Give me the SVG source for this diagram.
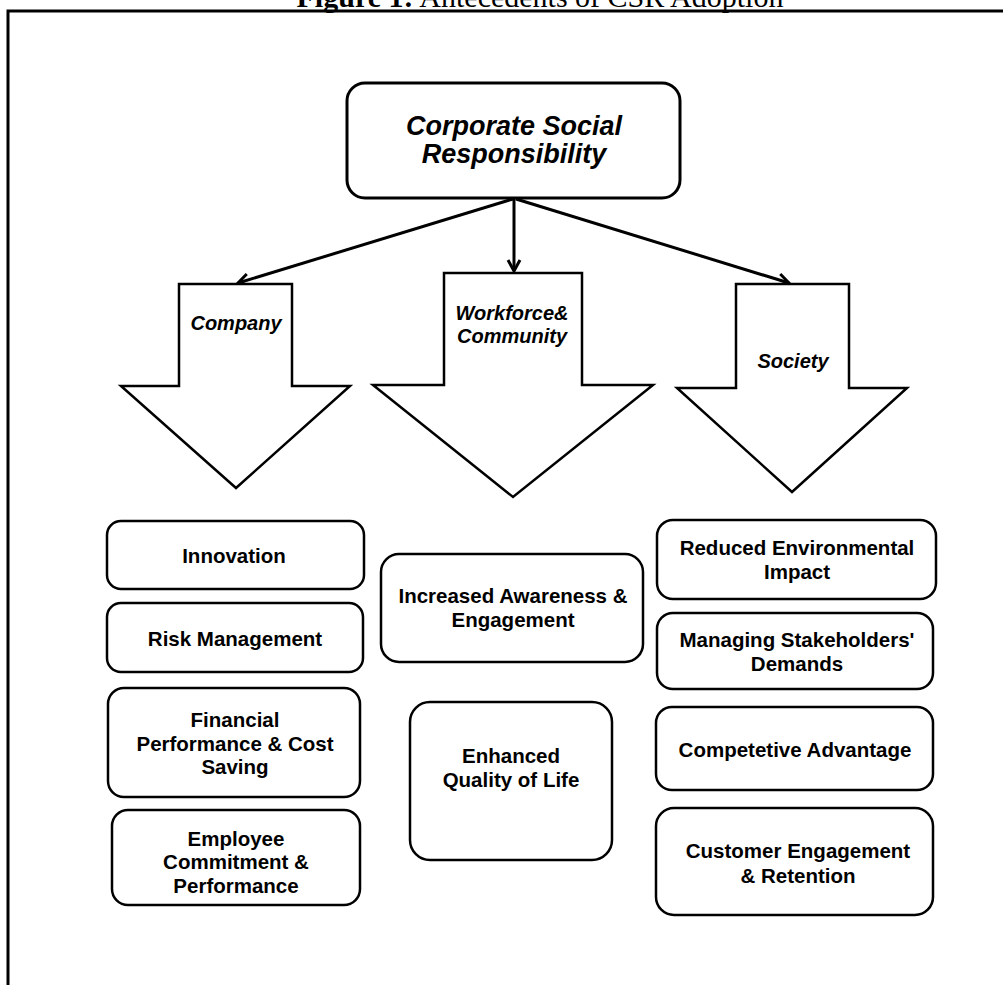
<svg xmlns="http://www.w3.org/2000/svg" width="1003" height="985" viewBox="0 0 1003 985">
<style>
.frame{fill:none;stroke:#000;stroke-width:3}
.box{fill:#fff;stroke:#000;stroke-width:2.5}
.big{fill:#fff;stroke:#000;stroke-width:3}
.blk{fill:#fff;stroke:#000;stroke-width:2.5;stroke-linejoin:miter}
.con{fill:none;stroke:#000;stroke-width:3}
.t{font-family:"Liberation Sans",Arial,sans-serif;font-weight:bold;font-size:20.5px;text-anchor:middle;fill:#000}
.ti{font-family:"Liberation Sans",Arial,sans-serif;font-weight:bold;font-style:italic;font-size:20px;text-anchor:middle;fill:#000}
.h{font-family:"Liberation Sans",Arial,sans-serif;font-weight:bold;font-style:italic;font-size:27px;text-anchor:middle;fill:#000}
.title{font-family:"Liberation Serif","Times New Roman",serif;font-size:30px;fill:#000}
</style>
<defs>
<marker id="ah" markerUnits="userSpaceOnUse" markerWidth="16" markerHeight="16" refX="13" refY="8" orient="auto">
<path d="M2,2 L13,8 L2,14" fill="none" stroke="#000" stroke-width="3"/>
</marker>
</defs>
<rect width="1003" height="985" fill="#fff"/>
<text class="title" x="540" y="7" text-anchor="middle"><tspan font-weight="bold">Figure 1:</tspan> Antecedents of CSR Adoption</text>
<path class="frame" d="M8,985 L8,11 L1003,11"/>

<g id="connectors">
<line class="con" x1="513" y1="199" x2="238" y2="283" marker-end="url(#ah)"/>
<line class="con" x1="514" y1="199" x2="514" y2="271" marker-end="url(#ah)"/>
<line class="con" x1="516" y1="199" x2="789" y2="283" marker-end="url(#ah)"/>
</g>

<g id="csr">
<rect class="big" x="347" y="83" width="333" height="115" rx="18"/>
<text class="h" x="514" y="135">Corporate Social</text>
<text class="h" x="514" y="163">Responsibility</text>
</g>

<g id="company">
<polygon class="blk" points="179,284 292,284 292,386 350,386 236,488 121,386 179,386"/>
<text class="ti" x="236" y="330">Company</text>
</g>
<g id="workforce">
<polygon class="blk" points="444,273 582,273 582,385 653,385 513,497 373,385 444,385"/>
<text class="ti" x="512" y="320">Workforce&amp;</text>
<text class="ti" x="512" y="343">Community</text>
</g>
<g id="society">
<polygon class="blk" points="736,284 849,284 849,388 907,388 792,492 677,388 736,388"/>
<text class="ti" x="793" y="368">Society</text>
</g>

<g id="innovation">
<rect class="box" x="107" y="521" width="257" height="68" rx="14"/>
<text class="t" x="234" y="563">Innovation</text>
</g>
<g id="risk">
<rect class="box" x="107" y="603" width="256" height="69" rx="14"/>
<text class="t" x="235" y="646">Risk Management</text>
</g>
<g id="financial">
<rect class="box" x="108" y="688" width="252" height="109" rx="16"/>
<text class="t" x="235" y="727">Financial</text>
<text class="t" x="235" y="751">Performance &amp; Cost</text>
<text class="t" x="235" y="774">Saving</text>
</g>
<g id="employee">
<rect class="box" x="112" y="810" width="248" height="95" rx="16"/>
<text class="t" x="236" y="846">Employee</text>
<text class="t" x="236" y="869">Commitment &amp;</text>
<text class="t" x="236" y="893">Performance</text>
</g>

<g id="awareness">
<rect class="box" x="381" y="554" width="262" height="108" rx="18"/>
<text class="t" x="513" y="603">Increased Awareness &amp;</text>
<text class="t" x="513" y="627">Engagement</text>
</g>
<g id="quality">
<rect class="box" x="410" y="702" width="202" height="158" rx="20"/>
<text class="t" x="511" y="763">Enhanced</text>
<text class="t" x="511" y="787">Quality of Life</text>
</g>

<g id="environment">
<rect class="box" x="657" y="520" width="279" height="79" rx="16"/>
<text class="t" x="797" y="555">Reduced Environmental</text>
<text class="t" x="797" y="579">Impact</text>
</g>
<g id="stakeholders">
<rect class="box" x="657" y="613" width="276" height="76" rx="16"/>
<text class="t" x="797" y="647">Managing Stakeholders'</text>
<text class="t" x="797" y="671">Demands</text>
</g>
<g id="competitive">
<rect class="box" x="656" y="707" width="277" height="83" rx="16"/>
<text class="t" x="795" y="757">Competetive Advantage</text>
</g>
<g id="customer">
<rect class="box" x="656" y="808" width="277" height="107" rx="18"/>
<text class="t" x="798" y="858">Customer Engagement</text>
<text class="t" x="798" y="883">&amp; Retention</text>
</g>
</svg>
